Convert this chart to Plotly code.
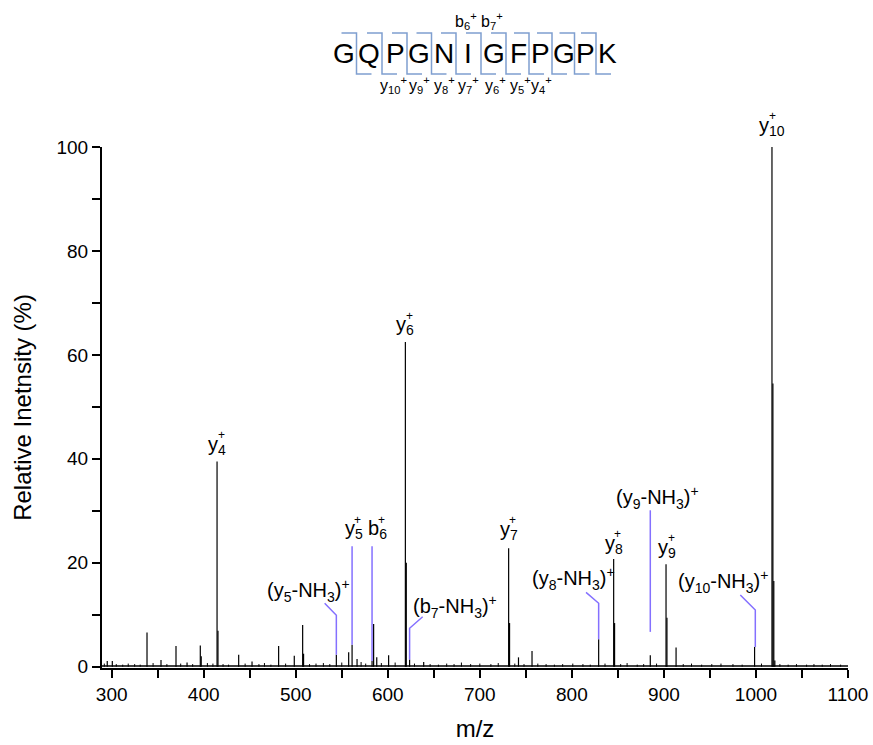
import plotly.graph_objects as go

# ---------------- data ----------------
# labelled fragment peaks (m/z, relative intensity %)
main_mz = [414.5, 415.5, 619.1, 620.1, 731.3, 732.3, 845.4, 846.4, 902.3, 903.3, 1017.4, 1018.4, 1019.4]
main_int = [39.5, 6.9, 62.5, 20.0, 22.8, 8.4, 20.7, 8.4, 19.7, 9.4, 100.0, 54.5, 16.5]

# neutral-loss / minor labelled peaks
minor_mz = [544.1, 561.2, 582.9, 584.6, 623.7, 829.1, 885.2, 998.5]
minor_int = [2.3, 4.2, 1.1, 8.2, 1.4, 5.3, 2.2, 3.8]

# other (unlabelled) peaks
other_mz = [295.2, 300.7, 338.4, 353.6, 369.9, 381.9, 396.3, 397.3, 438.0, 452.5,
            481.4, 498.4, 507.5, 508.5, 557.5, 566.6, 588.0, 600.9, 639.0, 742.0,
            756.7, 913.2, 1020.5]
other_int = [1.1, 1.1, 6.6, 1.3, 4.0, 0.8, 4.1, 2.0, 2.3, 1.0,
             4.0, 2.1, 8.0, 2.5, 2.8, 1.5, 1.8, 2.2, 0.9, 1.8,
             3.0, 3.7, 1.2]

# baseline grass (small peaks)
grass_mz = [292, 305, 312, 318, 325, 331, 345, 360, 375, 388, 404, 410, 421, 427, 445,
            460, 466, 473, 489, 515, 522, 530, 537, 550, 571, 576, 593, 608, 629, 646,
            655, 664, 672, 680, 690, 700, 712, 720, 738, 748, 763, 772, 781, 790, 801,
            812, 820, 836, 853, 860, 871, 878, 892, 921, 930, 941, 952, 962, 975, 985,
            1006, 1026, 1035, 1044, 1055, 1063, 1072, 1081, 1092]
grass_int = [0.6, 0.5, 0.4, 0.6, 0.5, 0.4, 0.7, 0.5, 0.6, 0.5, 0.7, 0.6, 0.5, 0.4, 0.6,
             0.5, 0.7, 0.4, 0.6, 0.5, 0.6, 0.7, 0.5, 0.8, 0.9, 0.6, 0.7, 0.8, 0.6, 0.5,
             0.4, 0.6, 0.5, 0.8, 0.5, 0.6, 0.5, 0.7, 0.6, 0.5, 0.6, 0.5, 0.4, 0.5, 0.6,
             0.5, 0.4, 0.6, 0.5, 0.7, 0.4, 0.5, 0.6, 0.5, 0.6, 0.4, 0.5, 0.6, 0.5, 0.4,
             0.6, 0.5, 0.4, 0.5, 0.4, 0.5, 0.4, 0.5, 0.4]

# peak labels: (base, subscript, m/z position, label height %, extra pixel shift)
ion_labels = [("y", "10", 1017.4, 100.0, 21), ("y", "6", 619.1, 65.6, 0), ("y", "4", 414.5, 42.6, 0),
              ("y", "7", 731.3, 26.3, 0), ("y", "8", 845.4, 23.6, 0), ("y", "9", 903.4, 22.8, 0),
              ("y", "5", 562.9, 26.4, 0), ("b", "6", 588.3, 26.4, 0)]
loss_labels = [("y", "5", 513.7, 14.7), ("b", "7", 673.4, 11.5), ("y", "8", 801.6, 17.0),
               ("y", "9", 892.5, 32.6), ("y", "10", 964.0, 16.3)]
# purple leader lines: list of (m/z, %) points
leaders = [[(531.4, 12.2), (544.1, 9.9), (544.1, 2.3)],
           [(561.2, 23.2), (561.2, 4.2)],
           [(582.9, 23.2), (582.9, 1.1)],
           [(637.9, 9.6), (623.7, 7.4), (623.7, 1.4)],
           [(815.4, 14.3), (829.1, 12.2), (829.1, 5.3)],
           [(885.2, 30.1), (885.2, 6.7)],
           [(983.0, 13.8), (999.3, 10.9), (999.3, 3.8)]]

sequence = list("GQPGNIGFPGPK")
residue_px = [344, 369, 395, 419, 444, 468, 494, 518, 540, 564, 585, 607]
y_frag_labels = [("10", 393), ("9", 419), ("8", 444), ("7", 468), ("6", 495), ("5", 520), ("4", 541)]
b_frag_labels = [("6", 466), ("7", 492)]

x_ticks = [300, 400, 500, 600, 700, 800, 900, 1000, 1100]
y_ticks = [0, 20, 40, 60, 80, 100]

# ---------------- figure ----------------
W, H = 873, 745
# plot area in window pixels: x 102..848, y 147..668
ML, MT = 102, 147
MR, MB = W - 848, H - 668
PW, PH = 848 - 102, 668 - 147

def px2x(px):
    return (px - 102) / PW

def py2y(py):
    return (668 - py) / PH

def sticks(mz, inten):
    xs, ys = [], []
    for m, v in zip(mz, inten):
        xs += [m, m, None]
        ys += [0, v, None]
    return xs, ys

fig = go.Figure()
for mz, it, w in [(grass_mz, grass_int, 1), (other_mz, other_int, 1.2),
                  (minor_mz, minor_int, 1.2), (main_mz, main_int, 1.2)]:
    xs, ys = sticks(mz, it)
    fig.add_trace(go.Scatter(x=xs, y=ys, mode="lines", line=dict(color="black", width=w),
                             hoverinfo="skip", showlegend=False))
# baseline
fig.add_trace(go.Scatter(x=[289.5, 1100], y=[0.15, 0.15], mode="lines",
                         line=dict(color="black", width=1.5), hoverinfo="skip", showlegend=False))

PURPLE = "#8470ff"
for pts in leaders:
    fig.add_trace(go.Scatter(x=[p[0] for p in pts], y=[p[1] for p in pts], mode="lines",
                             line=dict(color=PURPLE, width=1.5), hoverinfo="skip", showlegend=False))

FAM = "Liberation Sans, Arial, sans-serif"
LBL_FONT = dict(family=FAM, size=20, color="black")
ann = []
for base, sub, x, y, ys in ion_labels:
    ann.append(dict(x=x, y=y, xref="x", yref="y", showarrow=False, xanchor="center",
                    yanchor="middle", yshift=ys, text=f"{base}<sub>{sub}</sub>", font=LBL_FONT))
    bw = 10 if base == "y" else 11
    sw = 7.8 * len(sub)
    tot = bw + sw
    xoff = -tot / 2 + bw + 3
    ann.append(dict(x=x, y=y, xref="x", yref="y", showarrow=False, xanchor="center",
                    yanchor="middle", text="+", xshift=xoff, yshift=ys + 10,
                    font=dict(family=FAM, size=12, color="black")))
for base, sub, x, y in loss_labels:
    ann.append(dict(x=x, y=y, xref="x", yref="y", showarrow=False, xanchor="center",
                    yanchor="middle",
                    text=f"({base}<sub>{sub}</sub>-NH<sub>3</sub>)<sup>+</sup>", font=LBL_FONT))

# peptide sequence
SEQ_FONT = dict(family=FAM, size=28, color="black")
for aa, px in zip(sequence, residue_px):
    ann.append(dict(x=px2x(px), y=py2y(54), xref="paper", yref="paper", showarrow=False,
                    xanchor="center", yanchor="middle", text=aa, font=SEQ_FONT))
FR_FONT = dict(family=FAM, size=16, color="black")
for sub, px in y_frag_labels:
    ann.append(dict(x=px2x(px), y=py2y(85), xref="paper", yref="paper", showarrow=False,
                    xanchor="center", yanchor="middle", text=f"y<sub>{sub}</sub><sup>+</sup>", font=FR_FONT))
for sub, px in b_frag_labels:
    ann.append(dict(x=px2x(px), y=py2y(21), xref="paper", yref="paper", showarrow=False,
                    xanchor="center", yanchor="middle", text=f"b<sub>{sub}</sub><sup>+</sup>", font=FR_FONT))

shapes = []
BR = "#7f9fd0"
top_py, bot_py = 33, 74
for a, b in zip(residue_px[:-1], residue_px[1:]):
    s = (a + b) / 2
    path = (f"M {px2x(s-15)},{py2y(top_py)} L {px2x(s)},{py2y(top_py)} "
            f"L {px2x(s)},{py2y(bot_py)} L {px2x(s+15)},{py2y(bot_py)}")
    shapes.append(dict(type="path", path=path, xref="paper", yref="paper",
                       line=dict(color=BR, width=1.5)))

TICK_FONT = dict(family=FAM, size=19, color="black")
fig.update_layout(
    width=W, height=H, margin=dict(l=ML, r=MR, t=MT, b=MB, autoexpand=False),
    paper_bgcolor="white", plot_bgcolor="white",
    annotations=ann, shapes=shapes, showlegend=False,
    xaxis=dict(range=[289.5, 1100], tickvals=x_ticks, ticks="outside", ticklen=8, tickwidth=1.5,
               tickcolor="black", showline=True, linecolor="black", linewidth=2, showgrid=False,
               zeroline=False, tickfont=TICK_FONT, automargin=False,
               minor=dict(dtick=50, tick0=250, ticks="outside", ticklen=8, tickwidth=1.5, tickcolor="black", showgrid=False),
               title=dict(text="m/z", font=dict(family=FAM, size=24, color="black"), standoff=16)),
    yaxis=dict(range=[-0.25, 100], tickvals=y_ticks, ticks="outside", ticklen=8, tickwidth=1.5,
               tickcolor="black", showline=True, linecolor="black", linewidth=2, showgrid=False,
               zeroline=False, tickfont=TICK_FONT, automargin=False,
               minor=dict(dtick=10, tick0=0, ticks="outside", ticklen=8, tickwidth=1.5, tickcolor="black", showgrid=False),
               title=dict(text="Relative Inetnsity (%)", font=dict(family=FAM, size=24, color="black"),
                          standoff=18)),
)
fig.write_html("out.html", config={"displayModeBar": False},
               post_script="document.body.style.margin='0';document.body.style.overflow='hidden';")
